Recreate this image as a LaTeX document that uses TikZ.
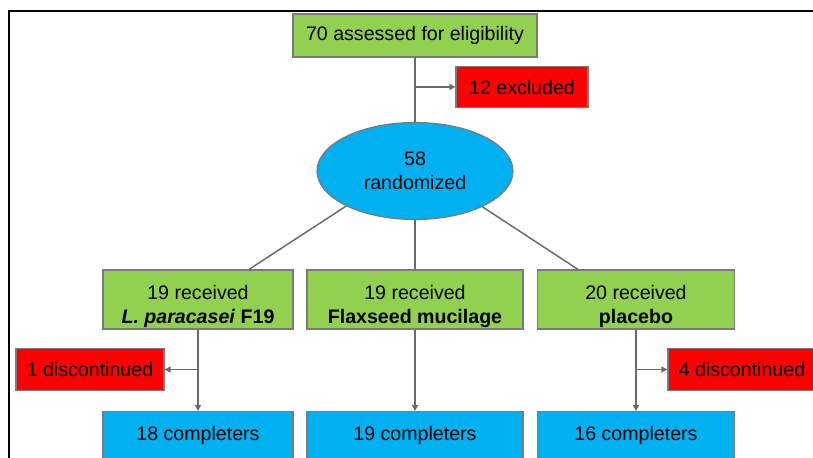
\documentclass[tikz,border=0pt]{standalone}
\usepackage{fontspec}
\setmainfont{Liberation Sans}
\usetikzlibrary{shapes.geometric,arrows.meta,calc}
\definecolor{boxgreen}{HTML}{92D050}
\definecolor{boxred}{HTML}{FF0000}
\definecolor{boxblue}{HTML}{00B0F0}
\definecolor{edgegray}{HTML}{7A7A7A}
\definecolor{linegray}{HTML}{6A6A6A}
\begin{document}
\begin{tikzpicture}[x=0.75pt,y=-0.75pt,
  box/.style={draw=edgegray, line width=0.9pt, align=center, inner sep=0pt, font=\fontsize{14.7}{18}\selectfont},
  greenbox/.style={box, fill=boxgreen, minimum height=44.25pt},
  armbox/.style={greenbox, text height=39.75pt, text depth=4.5pt},
  redbox/.style={box, fill=boxred, minimum height=31pt},
  bluebox/.style={box, fill=boxblue, anchor=north, text height=21.75pt, text depth=30pt},
  conn/.style={draw=linegray, line width=1.1pt},
  tip/.style={-{Triangle[length=4.5pt,width=4.5pt]}}]
\useasboundingbox (0,0) rectangle (813,457);
\clip (0,0) rectangle (813,457);
\draw[line width=1.5pt] (9,11) rectangle (840,480);
\node[greenbox, minimum width=183pt, minimum height=32.25pt] (elig) at (415,35.5) {70 assessed for eligibility};
\node[redbox, minimum width=99pt] (excl) at (522,87) {12 excluded};
\node[box, ellipse, fill=boxblue, minimum width=147pt, minimum height=72.75pt] (rand) at (415,171) {58\\randomized};
\node[armbox, minimum width=142.5pt] (lp) at (198,299.5) {19 received\\\textbf{\textit{L. paracasei} F19}};
\node[armbox, minimum width=162pt] (mp) at (415,299.5) {19 received\\\textbf{Flaxseed mucilage}};
\node[armbox, minimum width=147.75pt] (rp) at (636,299.5) {20 received\\\textbf{placebo}};
\node[redbox, minimum width=111pt] (ld) at (90,369.5) {1 discontinued};
\node[redbox, minimum width=111pt] (rd) at (742,369.5) {4 discontinued};
\node[bluebox, minimum width=142.5pt] (lc) at (198,411) {18 completers};
\node[bluebox, minimum width=162pt] (mc) at (415,411) {19 completers};
\node[bluebox, minimum width=147.75pt] (rc) at (636,411) {16 completers};
\draw[conn] (elig.south) -- (rand.north);
\draw[conn,tip] (elig.south |- excl.west) -- (excl.west);
\draw[conn] (rand.207) -- ($(lp.north)+(51,0)$);
\draw[conn] (rand.south) -- (mp.north);
\draw[conn] (rand.-28) -- ($(rp.north)+(-58,0)$);
\draw[conn,tip] (lp.south) -- (lc.north);
\draw[conn,tip] (mp.south) -- (mc.north);
\draw[conn,tip] (rp.south) -- (rc.north);
\draw[conn,tip] (lp.south |- ld.east) -- (ld.east);
\draw[conn,tip] (rp.south |- rd.west) -- (rd.west);
\end{tikzpicture}
\end{document}
